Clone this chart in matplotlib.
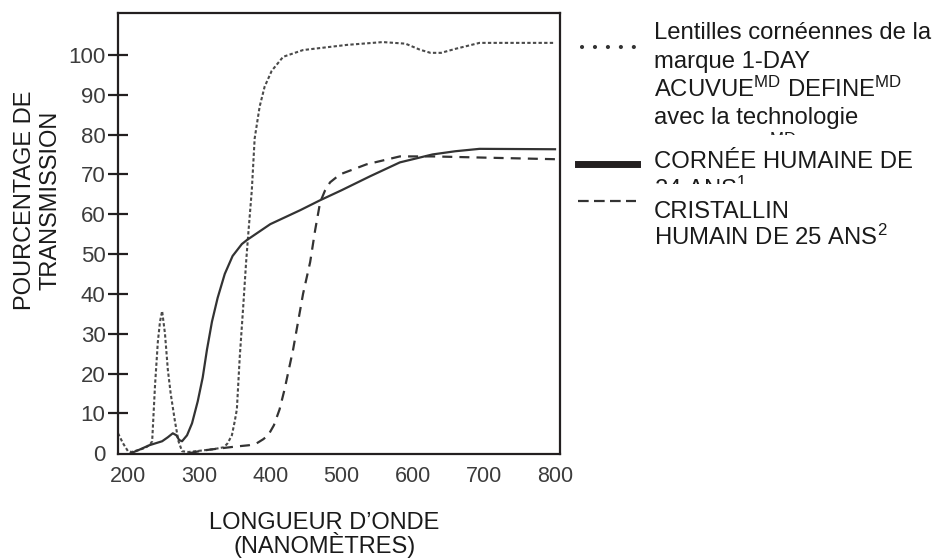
import matplotlib
matplotlib.use('Agg')
import matplotlib.pyplot as plt
from matplotlib.lines import Line2D
from matplotlib.transforms import Bbox, TransformedBbox

plt.rcParams['font.family'] = ['Liberation Sans', 'DejaVu Sans']
plt.rcParams['mathtext.fontset'] = 'custom'
plt.rcParams['mathtext.rm'] = 'Liberation Sans'
plt.rcParams['mathtext.it'] = 'Liberation Sans'
plt.rcParams['mathtext.bf'] = 'Liberation Sans'

# Datos (longitud de onda en nm, % de transmision)
lentille_nm = [186, 193, 200, 205, 215, 225, 231, 234, 238, 242, 245, 248, 252, 256, 260,
               266, 271, 276, 285, 300, 320, 335, 340, 346, 350, 353, 357, 362, 366, 369,
               374, 378, 385, 392, 402, 418, 446, 508, 558, 590, 610, 625, 640, 660, 694, 800]
lentille_pct = [5, 2.5, 0.5, 0.3, 0.8, 1.4, 2.2, 3, 17, 28, 33, 35.7, 30, 21, 15,
                8, 3, 0.5, 0.3, 0.6, 1, 1.5, 2.5, 4.5, 8, 11, 24, 37, 48, 55,
                66, 79, 87, 92, 96, 99.5, 101.2, 102.5, 103.2, 102.8, 101.3, 100.5, 100.5, 101.5, 103, 103]

cornee_nm = [204, 215, 230, 248, 256, 263, 268, 272, 276, 283, 290, 298, 305, 311, 318,
             326, 336, 347, 360, 367, 400, 442, 470, 500, 540, 582, 628, 660, 694, 800]
cornee_pct = [0, 0.8, 2, 3, 4, 5, 4.5, 3.3, 3, 4.5, 7.5, 13, 19, 26, 33,
              39, 45, 49.5, 52.5, 53.5, 57.5, 61, 63.5, 66, 69.5, 73, 75, 75.8, 76.4, 76.3]

cristallin_nm = [286, 300, 315, 329, 353, 370, 381, 390, 397, 405, 413, 420, 426, 432, 440,
                 446, 451, 456, 463, 470, 477, 484, 498, 535, 582, 628, 700, 800]
cristallin_pct = [0, 0.5, 0.9, 1.2, 1.7, 2, 2.5, 3.5, 4.5, 7, 11, 16, 21, 26, 34,
                  40, 44, 48, 56, 63, 66, 68, 70, 72.5, 74.5, 74.5, 74.2, 73.8]

x_ticks = [200, 300, 400, 500, 600, 700, 800]
y_ticks = [0, 10, 20, 30, 40, 50, 60, 70, 80, 90, 100]

W, H = 938, 558
fig = plt.figure(figsize=(W / 100, H / 100), dpi=100)
ax = fig.add_axes([118 / W, 1 - 454 / H, (560 - 118) / W, (454 - 13) / H])

# Curvas
ax.plot(lentille_nm, lentille_pct, color='#4a4a4a', lw=1.5, linestyle=(0, (1.6, 1.1)))
ax.plot(cornee_nm, cornee_pct, color='#333333', lw=1.6)
ax.plot(cristallin_nm, cristallin_pct, color='#333333', lw=1.6, linestyle=(0, (4.5, 3.2)))

ax.set_xlim(186, 807)
ax.set_ylim(-0.2, 110.5)
ax.set_xticks(x_ticks)
ax.set_yticks(y_ticks)
ax.tick_params(axis='x', length=0, pad=9, labelsize=15.5, labelcolor='#3c3c3c')
ax.tick_params(axis='y', direction='inout', length=14, width=1.6, color='#231f20',
               pad=2, labelsize=16, labelcolor='#3c3c3c')
ax.yaxis.get_major_ticks()[0].tick1line.set_visible(False)
for s in ax.spines.values():
    s.set_linewidth(1.6)
    s.set_color('#231f20')

# Etiquetas de los ejes
fig.text(38 / W, 1 - 200 / H, 'POURCENTAGE DE\nTRANSMISSION', rotation=90, ha='center',
         va='center', multialignment='center', fontsize=17, linespacing=1.18, color='#1a1a1a')
fig.text(324 / W, 1 - 529 / H, 'LONGUEUR D\u2019ONDE', ha='center', va='baseline',
         fontsize=17, color='#1a1a1a')
fig.text(325 / W, 1 - 553 / H, '(NANOMÈTRES)', ha='center', va='baseline',
         fontsize=17, color='#1a1a1a')

# Leyenda manual
fig.add_artist(Line2D([582 / W, 634 / W], [1 - 47 / H, 1 - 47 / H], transform=fig.transFigure,
                      color='#333333', lw=3.0, linestyle=(0, (0.01, 3.1)),
                      dash_capstyle='round'))
fig.add_artist(Line2D([578 / W, 637 / W], [1 - 163.5 / H, 1 - 163.5 / H], transform=fig.transFigure,
                      color='#231f20', lw=5.0))
fig.add_artist(Line2D([578 / W, 636 / W], [1 - 201 / H, 1 - 201 / H], transform=fig.transFigure,
                      color='#333333', lw=1.6, linestyle=(0, (4.8, 2.4))))

legend_lines = [
    ('Lentilles cornéennes de la', 39, None),
    ('marque 1-DAY', 68, None),
    (r'ACUVUE$^{\mathrm{MD}}$ DEFINE$^{\mathrm{MD}}$', 97, None),
    ('avec la technologie', 124, None),
    (r'LACREON$^{\mathrm{MD}}$', 154, 134.5),
    ('CORNÉE HUMAINE DE', 168, None),
    (r'24 ANS$^{1}$', 197, 183.5),
    ('CRISTALLIN', 218, None),
    (r'HUMAIN DE 25 ANS$^{2}$', 245, None),
]
for txt, base, clip_y in legend_lines:
    t = fig.text(654 / W, 1 - base / H, txt, ha='left', va='baseline', fontsize=17.2,
                 color='#1a1a1a')
    if clip_y is not None:
        t.set_clip_on(True)
        t.set_clip_box(TransformedBbox(Bbox.from_extents(0, 1 - clip_y / H, 1, 1),
                                       fig.transFigure))

plt.savefig('out.png', dpi=100)
